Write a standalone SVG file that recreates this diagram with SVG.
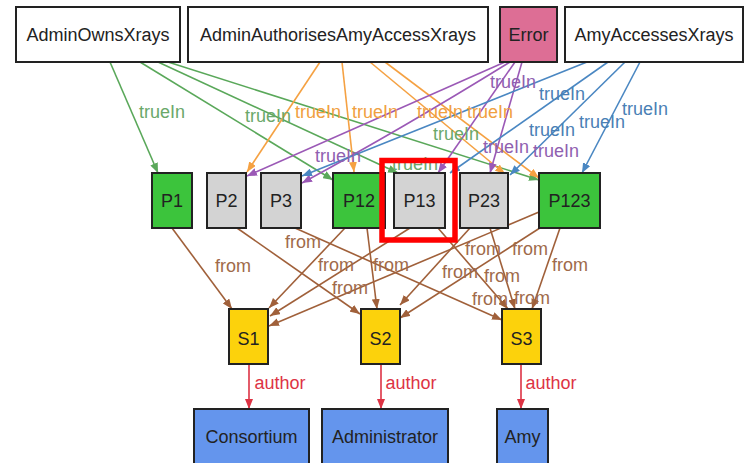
<svg xmlns="http://www.w3.org/2000/svg" width="750" height="463" viewBox="0 0 750 463">
<style>
text{font-family:"Liberation Sans",Arial,sans-serif;font-size:18px}
.n text{fill:#222;text-anchor:middle}
.n rect{stroke:#222;stroke-width:2}
.w{fill:#fff}.er{fill:#dd6e95}.g{fill:#3cc43c}.gy{fill:#d3d3d3}.y{fill:#fcd20c}.b{fill:#6495ed}
.e path{fill:none;stroke-width:1.6}
.eg{stroke:#5aa85a}.eo{stroke:#f5a142}.ep{stroke:#9b59b6}.eb{stroke:#4a87c2}.ef{stroke:#a0603a}.er2{stroke:#dd3344}
.lg{fill:#6aa86a}.lo{fill:#f0a040}.lp{fill:#9060b0}.lb{fill:#4a7fb5}.lf{fill:#a06a4a}.lr{fill:#dd3344}
.l{text-anchor:middle}
</style>
<defs>
<marker id="mg" markerUnits="userSpaceOnUse" markerWidth="10" markerHeight="8" refX="10" refY="4" orient="auto"><path d="M0,0 L10,4 L0,8 z" fill="#5aa85a"/></marker>
<marker id="mo" markerUnits="userSpaceOnUse" markerWidth="10" markerHeight="8" refX="10" refY="4" orient="auto"><path d="M0,0 L10,4 L0,8 z" fill="#f5a142"/></marker>
<marker id="mp" markerUnits="userSpaceOnUse" markerWidth="10" markerHeight="8" refX="10" refY="4" orient="auto"><path d="M0,0 L10,4 L0,8 z" fill="#9b59b6"/></marker>
<marker id="mb" markerUnits="userSpaceOnUse" markerWidth="10" markerHeight="8" refX="10" refY="4" orient="auto"><path d="M0,0 L10,4 L0,8 z" fill="#4a87c2"/></marker>
<marker id="mf" markerUnits="userSpaceOnUse" markerWidth="10" markerHeight="8" refX="10" refY="4" orient="auto"><path d="M0,0 L10,4 L0,8 z" fill="#a0603a"/></marker>
<marker id="mr" markerUnits="userSpaceOnUse" markerWidth="10" markerHeight="8" refX="10" refY="4" orient="auto"><path d="M0,0 L10,4 L0,8 z" fill="#dd3344"/></marker>
</defs>
<rect width="750" height="463" fill="#fff"/>
<g id="connectors" class="e">
<path class="eg" d="M110,62 L158,173" marker-end="url(#mg)"/>
<path class="eg" d="M140,62 L333,180" marker-end="url(#mg)"/>
<path class="eg" d="M158,62 L398,173" marker-end="url(#mg)"/>
<path class="eg" d="M168,62 L539,180" marker-end="url(#mg)"/>
<path class="eo" d="M320,62 L247,172" marker-end="url(#mo)"/>
<path class="eo" d="M342,62 L354,172" marker-end="url(#mo)"/>
<path class="eo" d="M370,62 L505,174" marker-end="url(#mo)"/>
<path class="eo" d="M385,62 L539,178" marker-end="url(#mo)"/>
<path class="ep" d="M505,62 L247,176" marker-end="url(#mp)"/>
<path class="ep" d="M510,62 Q400,130 302,183" marker-end="url(#mp)"/>
<path class="ep" d="M515,62 L438,173" marker-end="url(#mp)"/>
<path class="ep" d="M522,62 L490,173" marker-end="url(#mp)"/>
<path class="eb" d="M587,62 L302,176" marker-end="url(#mb)"/>
<path class="eb" d="M608,62 L450,173" marker-end="url(#mb)"/>
<path class="eb" d="M625,62 L510,175" marker-end="url(#mb)"/>
<path class="eb" d="M640,62 L582,173" marker-end="url(#mb)"/>
<path class="ef" d="M172,228 L232,309" marker-end="url(#mf)"/>
<path class="ef" d="M237,228 L360,314" marker-end="url(#mf)"/>
<path class="ef" d="M295,228 L502,320" marker-end="url(#mf)"/>
<path class="ef" d="M345,228 L269,308" marker-end="url(#mf)"/>
<path class="ef" d="M367,228 L377,309" marker-end="url(#mf)"/>
<path class="ef" d="M410,228 L270,316" marker-end="url(#mf)"/>
<path class="ef" d="M438,228 L508,309" marker-end="url(#mf)"/>
<path class="ef" d="M470,228 L400,305" marker-end="url(#mf)"/>
<path class="ef" d="M490,228 L515,309" marker-end="url(#mf)"/>
<path class="ef" d="M539,212 L269,326" marker-end="url(#mf)"/>
<path class="ef" d="M543,226 L400,318" marker-end="url(#mf)"/>
<path class="ef" d="M560,228 L532,309" marker-end="url(#mf)"/>
<path class="er2" d="M249,364 L249,409" marker-end="url(#mr)"/>
<path class="er2" d="M381,364 L381,409" marker-end="url(#mr)"/>
<path class="er2" d="M521,364 L521,409" marker-end="url(#mr)"/>
<text class="l lg" x="162" y="118">trueIn</text>
<text class="l lg" x="268" y="122">trueIn</text>
<text class="l lg" x="415" y="170">trueIn</text>
<text class="l lg" x="456" y="140">trueIn</text>
<text class="l lo" x="318" y="118">trueIn</text>
<text class="l lo" x="375" y="118">trueIn</text>
<text class="l lo" x="440" y="118">trueIn</text>
<text class="l lo" x="490" y="118">trueIn</text>
<text class="l lp" x="338" y="162">trueIn</text>
<text class="l lp" x="513" y="88">trueIn</text>
<text class="l lp" x="506" y="153">trueIn</text>
<text class="l lp" x="556" y="157">trueIn</text>
<text class="l lb" x="562" y="100">trueIn</text>
<text class="l lb" x="552" y="136">trueIn</text>
<text class="l lb" x="602" y="128">trueIn</text>
<text class="l lb" x="645" y="115">trueIn</text>
<text class="l lf" x="233" y="272">from</text>
<text class="l lf" x="303" y="248">from</text>
<text class="l lf" x="336" y="271">from</text>
<text class="l lf" x="391" y="271">from</text>
<text class="l lf" x="350" y="294">from</text>
<text class="l lf" x="483" y="255">from</text>
<text class="l lf" x="530" y="255">from</text>
<text class="l lf" x="570" y="271">from</text>
<text class="l lf" x="460" y="278">from</text>
<text class="l lf" x="502" y="282">from</text>
<text class="l lf" x="490" y="305">from</text>
<text class="l lf" x="532" y="304">from</text>
<text class="l lr" x="280" y="389">author</text>
<text class="l lr" x="411" y="389">author</text>
<text class="l lr" x="551" y="389">author</text>
</g>
<g id="AdminOwnsXrays" class="n"><rect class="w" x="16" y="7" width="164" height="55"/><text x="98" y="41">AdminOwnsXrays</text></g>
<g id="AdminAuthorisesAmyAccessXrays" class="n"><rect class="w" x="188" y="7" width="300" height="55"/><text x="338" y="41">AdminAuthorisesAmyAccessXrays</text></g>
<g id="Error" class="n"><rect class="er" x="500" y="7" width="57" height="55"/><text x="528.5" y="41">Error</text></g>
<g id="AmyAccessesXrays" class="n"><rect class="w" x="565" y="7" width="178" height="55"/><text x="654" y="41">AmyAccessesXrays</text></g>
<g id="P1" class="n"><rect class="g" x="152" y="173" width="40" height="55"/><text x="172" y="207">P1</text></g>
<g id="P2" class="n"><rect class="gy" x="207" y="173" width="39" height="55"/><text x="226.5" y="207">P2</text></g>
<g id="P3" class="n"><rect class="gy" x="261" y="173" width="40" height="55"/><text x="281" y="207">P3</text></g>
<g id="P12" class="n"><rect class="g" x="333" y="173" width="52" height="55"/><text x="359" y="207">P12</text></g>
<g id="P13" class="n"><rect class="gy" x="394" y="173" width="51" height="55"/><text x="419.5" y="207">P13</text></g>
<g id="P23" class="n"><rect class="gy" x="460" y="173" width="48" height="55"/><text x="484" y="207">P23</text></g>
<g id="P123" class="n"><rect class="g" x="539" y="173" width="61" height="55"/><text x="569.5" y="207">P123</text></g>
<g id="S1" class="n"><rect class="y" x="229" y="309" width="39" height="55"/><text x="248.5" y="345">S1</text></g>
<g id="S2" class="n"><rect class="y" x="361" y="309" width="39" height="55"/><text x="380.5" y="345">S2</text></g>
<g id="S3" class="n"><rect class="y" x="502" y="309" width="39" height="55"/><text x="521.5" y="345">S3</text></g>
<g id="Consortium" class="n"><rect class="b" x="194" y="409" width="115" height="58"/><text x="251.5" y="443">Consortium</text></g>
<g id="Administrator" class="n"><rect class="b" x="322" y="409" width="126" height="58"/><text x="385" y="443">Administrator</text></g>
<g id="Amy" class="n"><rect class="b" x="497" y="409" width="51" height="58"/><text x="522.5" y="443">Amy</text></g>
<g id="highlight"><rect x="382" y="160.5" width="73" height="79.5" fill="none" stroke="#ff0000" stroke-width="5.5"/></g>
</svg>
